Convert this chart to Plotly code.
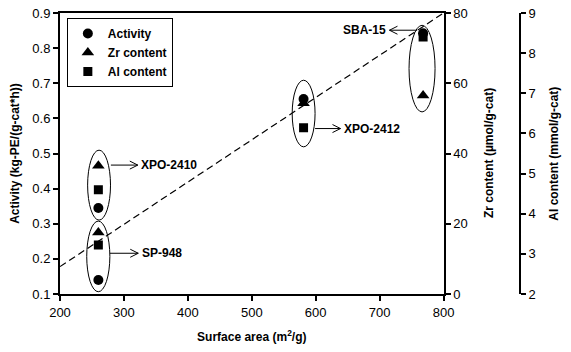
import plotly.graph_objects as go

# ---- data ----
surface_area = [260, 260, 581, 768]
samples = ["SP-948", "XPO-2410", "XPO-2412", "SBA-15"]
activity = [0.140, 0.345, 0.655, 0.842]          # kg-PE/(g-cat*h)
zr_content = [17.5, 36.5, 54.3, 56.5]            # umol/g-cat
al_content = [3.22, 4.60, 6.14, 8.40]            # mmol/g-cat
trend_x = [200, 800]
trend_y = [0.178, 0.9]

x_ticks = [200, 300, 400, 500, 600, 700, 800]
y_ticks = [0.1, 0.2, 0.3, 0.4, 0.5, 0.6, 0.7, 0.8, 0.9]
zr_ticks = [0, 20, 40, 60, 80]
al_ticks = [2, 3, 4, 5, 6, 7, 8, 9]

FONT = "Arial, 'Liberation Sans', sans-serif"
W, H = 571, 352
ML, MR, MT, MB = 60, 0, 13, 58
plot_w = 392
paper_w = W - ML - MR

fig = go.Figure()

fig.add_trace(go.Scatter(x=trend_x, y=trend_y, mode="lines", showlegend=False,
                         line=dict(color="black", width=1.2, dash="7px,4px"),
                         yaxis="y", hoverinfo="skip"))
fig.add_trace(go.Scatter(x=surface_area, y=zr_content, mode="markers", name="<b>Zr content</b>",
                         marker=dict(symbol="triangle-up", size=11, color="black"),
                         yaxis="y2", legendrank=2))
fig.add_trace(go.Scatter(x=surface_area, y=activity, mode="markers", name="<b>Activity</b>",
                         marker=dict(symbol="circle", size=10, color="black"),
                         yaxis="y", legendrank=1))
fig.add_trace(go.Scatter(x=surface_area, y=al_content, mode="markers", name="<b>Al content</b>",
                         marker=dict(symbol="square", size=9, color="black"),
                         yaxis="y3", legendrank=3))

# ellipses around each sample group
ellipses = {
    "SP-948": (241.8, 278.0, 0.1065, 0.3076),
    "XPO-2410": (243.2, 279.0, 0.3104, 0.5095),
    "XPO-2412": (563.2, 599.0, 0.519, 0.7086),
    "SBA-15": (746.0, 786.7, 0.6184, 0.865),
}
for k, (x0, x1, y0, y1) in ellipses.items():
    fig.add_shape(type="circle", xref="x", yref="y", x0=x0, x1=x1, y0=y0, y1=y1,
                  line=dict(color="black", width=1))

# arrows + labels: (tail_x, tip_x, y, label_x, anchor)
arrows = {
    "SP-948": (278.1, 322.4, 0.216, 325.0, "left"),
    "XPO-2410": (279.6, 321.7, 0.467, 324.0, "left"),
    "XPO-2412": (599.0, 638.8, 0.571, 641.0, "left"),
    "SBA-15": (758.7, 715.4, 0.851, 713.0, "right"),
}
for name, (tx, hx, yy, lx, anc) in arrows.items():
    fig.add_shape(type="line", xref="x", yref="y", x0=tx, x1=hx, y0=yy, y1=yy,
                  line=dict(color="black", width=1))
    d = 1 if hx > tx else -1
    fig.add_shape(type="path", xref="x", yref="y", xsizemode="pixel", ysizemode="pixel",
                  xanchor=hx, yanchor=yy,
                  path="M %d,4 L 0,0 L %d,-4" % (-8 * d, -8 * d),
                  line=dict(color="black", width=1))
    fig.add_annotation(x=lx, y=yy, xref="x", yref="y", text="<b>%s</b>" % name, showarrow=False,
                       xanchor=anc, yanchor="middle", font=dict(family=FONT, size=12, color="black"))

# right axis titles
fig.add_annotation(x=(498 - ML) / paper_w, y=0.5, xref="paper", yref="paper",
                   text="<b>Zr content (\u00b5mol/g-cat)</b>", showarrow=False, textangle=-90,
                   xanchor="center", yanchor="middle", font=dict(family=FONT, size=12, color="black"))
fig.add_annotation(x=(564 - ML) / paper_w, y=0.5, xref="paper", yref="paper",
                   text="<b>Al content (mmol/g-cat)</b>", showarrow=False, textangle=-90,
                   xanchor="center", yanchor="middle", font=dict(family=FONT, size=12, color="black"))

axis_common = dict(showgrid=False, zeroline=False, showline=True, linecolor="black", linewidth=2,
                   ticks="outside", ticklen=5, tickwidth=1.5, tickcolor="black",
                   tickfont=dict(family=FONT, size=13, color="black"))
title_font = dict(family=FONT, size=12, color="black")

fig.update_layout(
    width=W, height=H,
    margin=dict(l=ML, r=MR, t=MT, b=MB),
    paper_bgcolor="white", plot_bgcolor="white",
    font=dict(family=FONT, color="black"),
    xaxis=dict(range=[200, 800], domain=[0, plot_w / paper_w], tickvals=x_ticks,
               mirror=True,
               title=dict(text="<b>Surface area (m<sup>2</sup>/g)</b>", font=title_font, standoff=14),
               **axis_common),
    yaxis=dict(range=[0.1, 0.9], tickvals=y_ticks, tickformat=".1f",
               title=dict(text="<b>Activity (kg-PE/(g-cat*h))</b>", font=title_font, standoff=10),
               **axis_common),
    yaxis2=dict(range=[0, 80], tickvals=zr_ticks, overlaying="y", side="right", anchor="x",
                **axis_common),
    yaxis3=dict(range=[2, 9], tickvals=al_ticks, overlaying="y", side="right", anchor="free",
                position=(530 - ML) / paper_w, **axis_common),
    legend=dict(x=7 / paper_w, y=1 - 5 / (H - MT - MB), xanchor="left", yanchor="top",
                bordercolor="black", borderwidth=1, bgcolor="white",
                font=dict(family=FONT, size=12, color="black"), tracegroupgap=0),
    showlegend=True,
)

fig.write_html("out.html")
